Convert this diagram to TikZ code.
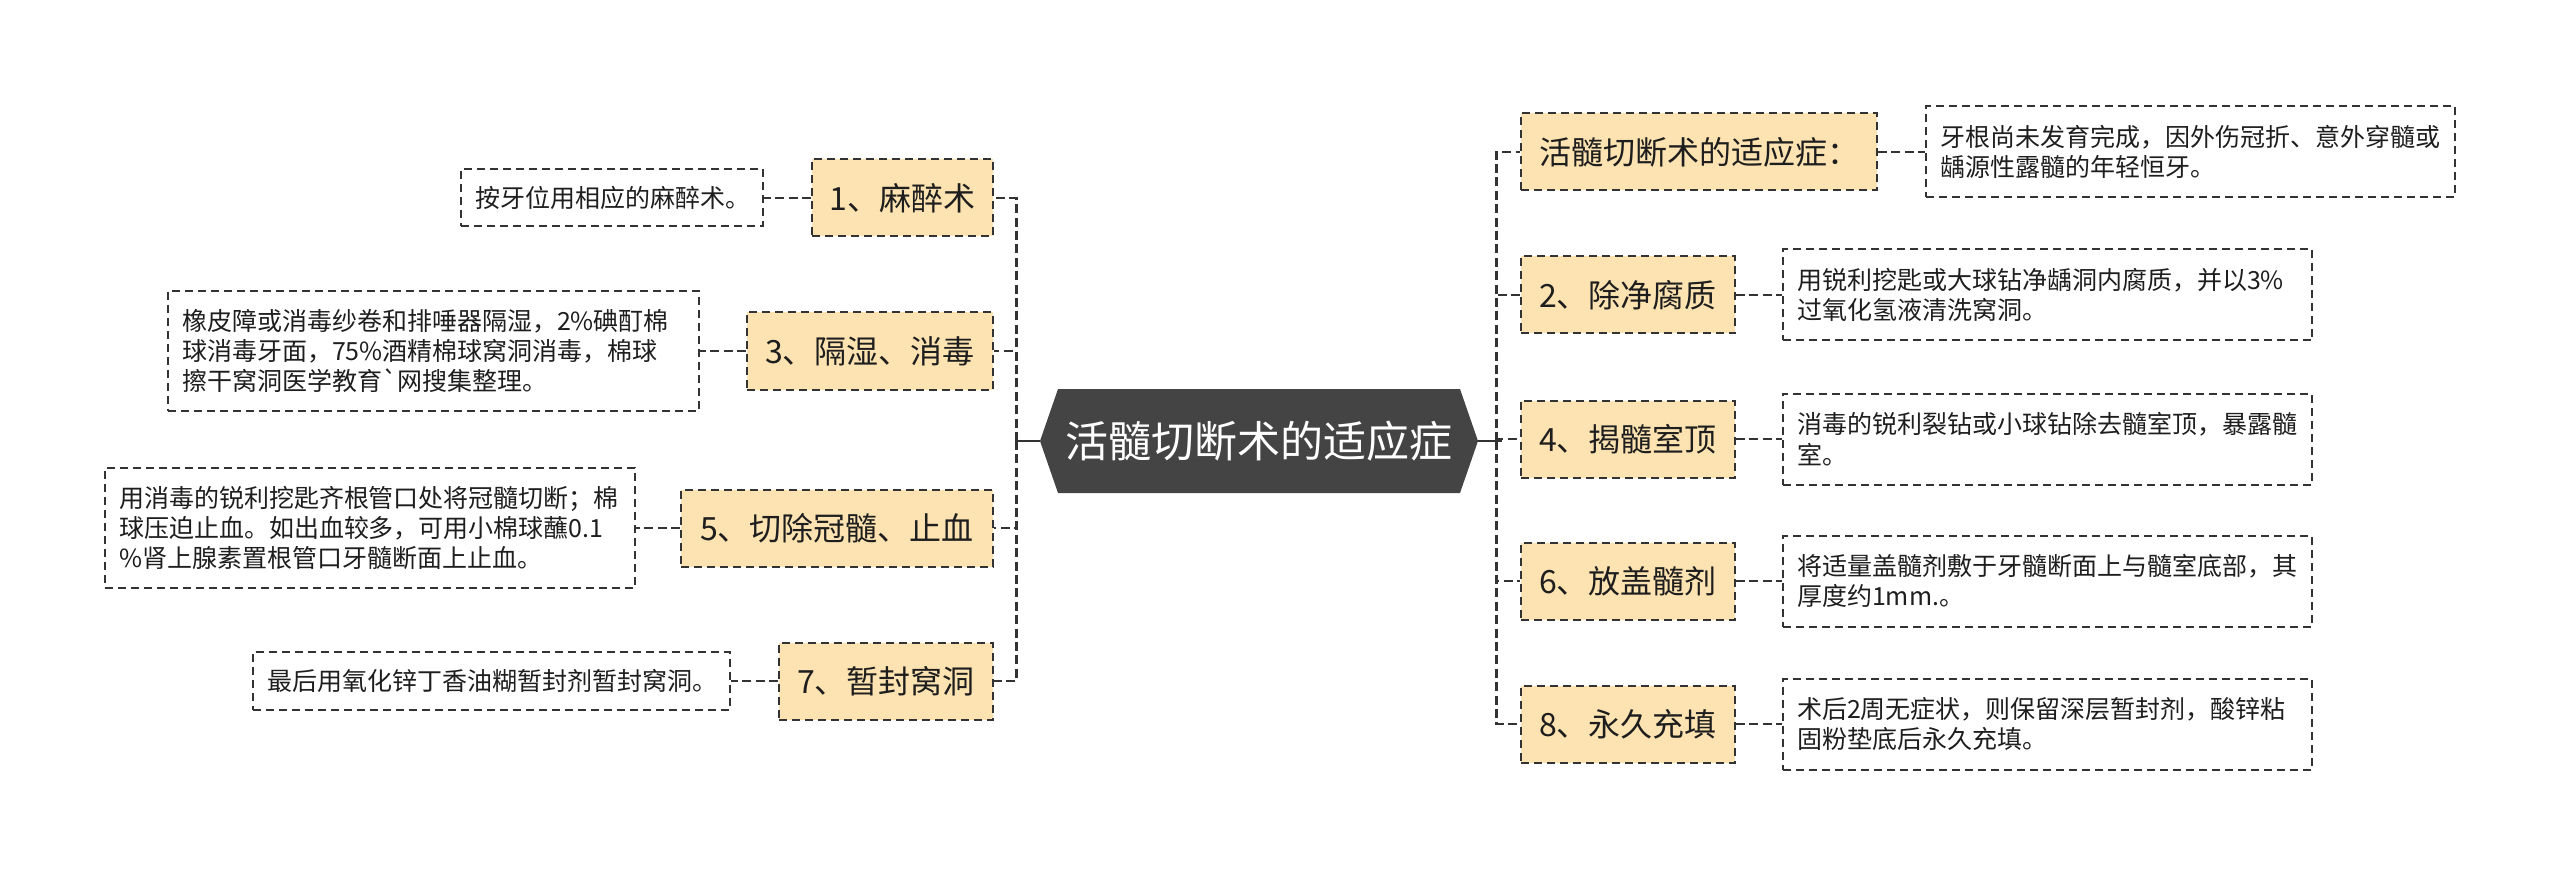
\documentclass[tikz,border=0pt]{standalone}
\usepackage{fontspec}
\setmainfont{Noto Sans CJK SC}
\definecolor{linec}{HTML}{333333}
\definecolor{boxc}{HTML}{333333}
\definecolor{topicfill}{HTML}{FCE3B1}
\definecolor{rootfill}{HTML}{444444}
\definecolor{textc}{HTML}{1E1E1E}
\tikzset{
  conn/.style={draw=linec, line width=1.4pt, dash pattern=on 4.5pt off 2.2pt},
  rootline/.style={draw=linec, line width=1.4pt},
  topic/.style={draw=boxc, fill=topicfill, line width=1pt, dash pattern=on 4pt off 2.5pt,
    minimum height=38.5pt, inner xsep=8pt, font=\fontsize{16}{19}\selectfont, text=textc},
  leaf/.style={draw=boxc, fill=white, line width=1pt, dash pattern=on 4pt off 2.5pt,
    inner xsep=7pt, align=left, font=\fontsize{12.5}{15.2}\selectfont, text=textc},
  rootnode/.style={minimum width=219pt, minimum height=52pt, inner sep=0pt,
    font=\fontsize{21.5}{24}\selectfont, text=white,
    path picture={\fill[rootfill] (path picture bounding box.west)
      -- ([xshift=9pt]path picture bounding box.north west)
      -- ([xshift=-9pt]path picture bounding box.north east)
      -- (path picture bounding box.east)
      -- ([xshift=-9pt]path picture bounding box.south east)
      -- ([xshift=9pt]path picture bounding box.south west) -- cycle;}},
}
\begin{document}
\begin{tikzpicture}[x=0.5pt,y=-0.5pt]
\useasboundingbox (0,0) rectangle (2560,882);
% root
\node[rootnode] (root) at (1259,441) {活髓切断术的适应症};
\coordinate (jl) at ([xshift=-11.5pt]root.west);
\coordinate (jr) at ([xshift=9pt]root.east);
% left topics
\node[topic, anchor=east, minimum width=90.5pt] (b1) at (994,198) {1、麻醉术};
\node[topic, anchor=east, minimum width=123pt] (b3) at (994,351) {3、隔湿、消毒};
\node[topic, anchor=east, minimum width=156pt] (b5) at (994,528) {5、切除冠髓、止血};
\node[topic, anchor=east, minimum width=107pt] (b7) at (994,681) {7、暂封窝洞};
% left leaves
\node[leaf, anchor=east, text width=137pt, minimum height=28.5pt] (la) at ([xshift=-23.5pt]b1.west) {按牙位用相应的麻醉术。};
\node[leaf, anchor=east, text width=251.5pt, minimum height=60pt] (lb) at ([xshift=-23pt]b3.west) {橡皮障或消毒纱卷和排唾器隔湿，2\%碘酊棉\\球消毒牙面，75\%酒精棉球窝洞消毒，棉球\\擦干窝洞医学教育\textasciigrave 网搜集整理。};
\node[leaf, anchor=east, text width=251pt, minimum height=60pt] (lc) at ([xshift=-22pt]b5.west) {用消毒的锐利挖匙齐根管口处将冠髓切断；棉\\球压迫止血。如出血较多，可用小棉球蘸0.1\\\%肾上腺素置根管口牙髓断面上止血。};
\node[leaf, anchor=east, text width=224.5pt, minimum height=29pt] (ld) at ([xshift=-23.5pt]b7.west) {最后用氧化锌丁香油糊暂封剂暂封窝洞。};
% right topics
\node[topic, anchor=west, minimum width=178pt] (r0) at (1520,152) {活髓切断术的适应症：};
\node[topic, anchor=west, minimum width=107pt] (r2) at (1520,295) {2、除净腐质};
\node[topic, anchor=west, minimum width=107pt] (r4) at (1520,439) {4、揭髓室顶};
\node[topic, anchor=west, minimum width=107pt] (r6) at (1520,581) {6、放盖髓剂};
\node[topic, anchor=west, minimum width=107pt] (r8) at (1520,724) {8、永久充填};
% right leaves
\node[leaf, anchor=west, text width=250.5pt, minimum height=45.5pt] (lr0) at ([xshift=23.5pt]r0.east) {牙根尚未发育完成，因外伤冠折、意外穿髓或\\龋源性露髓的年轻恒牙。};
\node[leaf, anchor=west, text width=250.5pt, minimum height=45.5pt] (lr2) at ([xshift=23pt]r2.east) {用锐利挖匙或大球钻净龋洞内腐质，并以3\%\\过氧化氢液清洗窝洞。};
\node[leaf, anchor=west, text width=250.5pt, minimum height=45.5pt] (lr4) at ([xshift=23pt]r4.east) {消毒的锐利裂钻或小球钻除去髓室顶，暴露髓\\室。};
\node[leaf, anchor=west, text width=250.5pt, minimum height=45.5pt] (lr6) at ([xshift=23pt]r6.east) {将适量盖髓剂敷于牙髓断面上与髓室底部，其\\厚度约1mm.。};
\node[leaf, anchor=west, text width=250.5pt, minimum height=45.5pt] (lr8) at ([xshift=23pt]r8.east) {术后2周无症状，则保留深层暂封剂，酸锌粘\\固粉垫底后永久充填。};
% connectors
\draw[rootline] (root.west) -- (jl);
\draw[rootline] (root.east) -- ([xshift=3pt]jr);
\foreach \b in {b1,b3,b5,b7} \draw[conn] (jl) |- (\b.east);
\foreach \b in {r0,r2,r4,r6,r8} \draw[conn] (jr) |- (\b.west);
\draw[conn] (b1.west) -- (la.east);
\draw[conn] (b3.west) -- (lb.east);
\draw[conn] (b5.west) -- (lc.east);
\draw[conn] (b7.west) -- (ld.east);
\draw[conn] (r0.east) -- (lr0.west);
\draw[conn] (r2.east) -- (lr2.west);
\draw[conn] (r4.east) -- (lr4.west);
\draw[conn] (r6.east) -- (lr6.west);
\draw[conn] (r8.east) -- (lr8.west);
\end{tikzpicture}
\end{document}
